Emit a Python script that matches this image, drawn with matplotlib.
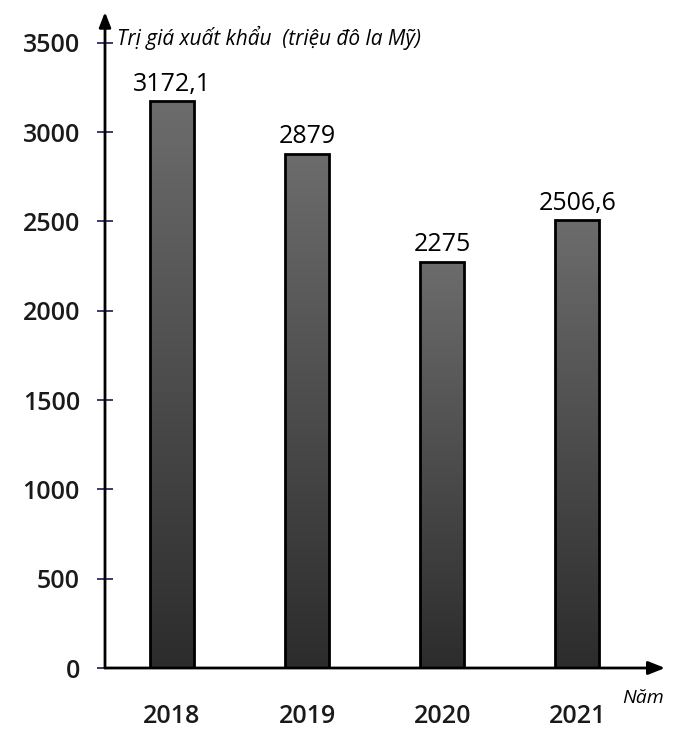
import numpy as np
import matplotlib.pyplot as plt

years = ["2018", "2019", "2020", "2021"]
values = [3172.1, 2879, 2275, 2506.6]
value_labels = ["3172,1", "2879", "2275", "2506,6"]
yticks = [0, 500, 1000, 1500, 2000, 2500, 3000, 3500]

fig = plt.figure(figsize=(6.75, 7.31), dpi=100)
ax = fig.add_axes([105 / 675, 63 / 731, 560 / 675, 656 / 731])

x = np.arange(len(years))
ax.set_xlim(-0.496, 3.65)
ax.set_ylim(0, 3673)

# bars with a vertical grey gradient
bars = ax.bar(x, values, width=0.33, facecolor="none", edgecolor="black",
              linewidth=2, zorder=3)
grad = np.linspace(0, 1, 256).reshape(-1, 1)
cmap = plt.cm.colors.LinearSegmentedColormap.from_list("g", ["#2c2c2c", "#6c6c6c"])
for b in bars:
    x0, w, h = b.get_x(), b.get_width(), b.get_height()
    im = ax.imshow(grad, cmap=cmap, extent=[x0, x0 + w, 0, h],
                   origin="lower", aspect="auto", zorder=2)
    im.set_clip_path(b)

for xi, v, lab in zip(x, values, value_labels):
    ax.text(xi, v + 25, lab, ha="center", va="bottom", fontsize=18,
            family="Open Sans")

# axes with arrows
for s in ["top", "right", "left", "bottom"]:
    ax.spines[s].set_visible(False)
ax.annotate("", xy=(0, 1.0), xytext=(0, 0), xycoords="axes fraction",
            arrowprops=dict(arrowstyle="-|>,head_width=0.35,head_length=0.9",
                            color="black", lw=2, shrinkA=0, shrinkB=0))
ax.annotate("", xy=(1.0, 0), xytext=(0, 0), xycoords="axes fraction",
            arrowprops=dict(arrowstyle="-|>,head_width=0.4,head_length=1.0",
                            color="black", lw=2, shrinkA=0, shrinkB=0))

ax.set_yticks(yticks)
ax.set_yticklabels([str(t) for t in yticks], fontsize=18, family="Open Sans",
                   weight="semibold", color="#1a1a1a")
ax.tick_params(axis="y", direction="inout", length=12, width=1.2,
               color="#1a1a50", pad=12)
ax.set_xticks(x)
ax.set_xticklabels(years, fontsize=18, family="Open Sans", weight="semibold",
                   color="#1a1a1a")
ax.tick_params(axis="x", length=0, pad=26)

ax.text(-0.41, 3530, "Trị giá xuất khẩu  (triệu đô la Mỹ)", fontsize=15,
        style="italic", family="Open Sans", va="center", ha="left")
ax.text(3.33, -170, "Năm", fontsize=14, style="italic", family="Open Sans",
        va="center", ha="left", clip_on=False)

fig.savefig("out.png", dpi=100)
